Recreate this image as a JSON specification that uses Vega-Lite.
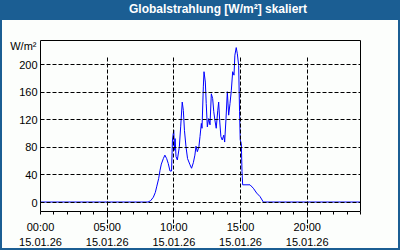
{
  "$schema": "https://vega.github.io/schema/vega-lite/v6.json",
  "width": 396,
  "height": 228,
  "autosize": {"type": "none"},
  "padding": {"left": 2, "right": 2, "top": 20, "bottom": 2},
  "background": "#1B5E93",
  "config": {
    "view": {"fill": "#FCFEFC", "stroke": null},
    "font": "Liberation Sans"
  },
  "title": {
    "text": "Globalstrahlung [W/m²] skaliert",
    "color": "#FFFFFF",
    "font": "Liberation Sans",
    "fontSize": 12,
    "fontWeight": "bold",
    "anchor": "middle",
    "frame": "group",
    "baseline": "alphabetic",
    "offset": -5,
    "dx": 18
  },
  "data": {
    "values": [
      {"t": "2026-01-15T00:00", "v": 0},
      {"t": "2026-01-15T08:06", "v": 0},
      {"t": "2026-01-15T08:18", "v": 2},
      {"t": "2026-01-15T08:30", "v": 7},
      {"t": "2026-01-15T08:39", "v": 14},
      {"t": "2026-01-15T08:45", "v": 22},
      {"t": "2026-01-15T08:54", "v": 34},
      {"t": "2026-01-15T09:00", "v": 46},
      {"t": "2026-01-15T09:06", "v": 55},
      {"t": "2026-01-15T09:15", "v": 63},
      {"t": "2026-01-15T09:22", "v": 68},
      {"t": "2026-01-15T09:30", "v": 63},
      {"t": "2026-01-15T09:37", "v": 56},
      {"t": "2026-01-15T09:45", "v": 45},
      {"t": "2026-01-15T09:52", "v": 45},
      {"t": "2026-01-15T09:56", "v": 90},
      {"t": "2026-01-15T10:00", "v": 100},
      {"t": "2026-01-15T10:02", "v": 104},
      {"t": "2026-01-15T10:05", "v": 75},
      {"t": "2026-01-15T10:08", "v": 92},
      {"t": "2026-01-15T10:12", "v": 66},
      {"t": "2026-01-15T10:18", "v": 61},
      {"t": "2026-01-15T10:27", "v": 80},
      {"t": "2026-01-15T10:33", "v": 109},
      {"t": "2026-01-15T10:40", "v": 145},
      {"t": "2026-01-15T10:45", "v": 133},
      {"t": "2026-01-15T10:50", "v": 104},
      {"t": "2026-01-15T10:57", "v": 80},
      {"t": "2026-01-15T11:04", "v": 63},
      {"t": "2026-01-15T11:15", "v": 54},
      {"t": "2026-01-15T11:22", "v": 49},
      {"t": "2026-01-15T11:30", "v": 57},
      {"t": "2026-01-15T11:37", "v": 68},
      {"t": "2026-01-15T11:42", "v": 81},
      {"t": "2026-01-15T11:48", "v": 73},
      {"t": "2026-01-15T11:55", "v": 80},
      {"t": "2026-01-15T12:00", "v": 95},
      {"t": "2026-01-15T12:06", "v": 114},
      {"t": "2026-01-15T12:09", "v": 107},
      {"t": "2026-01-15T12:15", "v": 167},
      {"t": "2026-01-15T12:18", "v": 189},
      {"t": "2026-01-15T12:24", "v": 174},
      {"t": "2026-01-15T12:28", "v": 143},
      {"t": "2026-01-15T12:33", "v": 109},
      {"t": "2026-01-15T12:39", "v": 121},
      {"t": "2026-01-15T12:45", "v": 112},
      {"t": "2026-01-15T12:51", "v": 157},
      {"t": "2026-01-15T12:57", "v": 150},
      {"t": "2026-01-15T13:02", "v": 131},
      {"t": "2026-01-15T13:07", "v": 119},
      {"t": "2026-01-15T13:13", "v": 107},
      {"t": "2026-01-15T13:20", "v": 133},
      {"t": "2026-01-15T13:24", "v": 145},
      {"t": "2026-01-15T13:29", "v": 116},
      {"t": "2026-01-15T13:34", "v": 95},
      {"t": "2026-01-15T13:40", "v": 90},
      {"t": "2026-01-15T13:47", "v": 97},
      {"t": "2026-01-15T13:51", "v": 87},
      {"t": "2026-01-15T13:57", "v": 121},
      {"t": "2026-01-15T14:03", "v": 160},
      {"t": "2026-01-15T14:09", "v": 126},
      {"t": "2026-01-15T14:15", "v": 143},
      {"t": "2026-01-15T14:21", "v": 162},
      {"t": "2026-01-15T14:27", "v": 189},
      {"t": "2026-01-15T14:33", "v": 184},
      {"t": "2026-01-15T14:37", "v": 213},
      {"t": "2026-01-15T14:43", "v": 224},
      {"t": "2026-01-15T14:48", "v": 215},
      {"t": "2026-01-15T14:54", "v": 198},
      {"t": "2026-01-15T14:58", "v": 131},
      {"t": "2026-01-15T15:01", "v": 90},
      {"t": "2026-01-15T15:06", "v": 85},
      {"t": "2026-01-15T15:09", "v": 44},
      {"t": "2026-01-15T15:12", "v": 25},
      {"t": "2026-01-15T15:45", "v": 25},
      {"t": "2026-01-15T16:00", "v": 20},
      {"t": "2026-01-15T16:15", "v": 13},
      {"t": "2026-01-15T16:30", "v": 8},
      {"t": "2026-01-15T16:45", "v": 0},
      {"t": "2026-01-16T00:00", "v": 0}
    ]
  },
  "resolve": {"axis": {"x": "independent", "y": "independent"}},
  "layer": [
    {
      "mark": {"type": "line", "color": "#0000FF", "strokeWidth": 1, "interpolate": "linear"},
      "encoding": {
        "x": {
          "field": "t",
          "type": "temporal",
          "scale": {
            "domain": [{"year": 2026, "month": 1, "date": 15, "hours": 0}, {"year": 2026, "month": 1, "date": 16, "hours": 0}],
            "range": [38, 358]
          },
          "axis": {
            "orient": "bottom",
            "offset": -37,
            "zindex": 1,
            "title": null,
            "values": [
              {"year": 2026, "month": 1, "date": 15, "hours": 0},
              {"year": 2026, "month": 1, "date": 15, "hours": 1},
              {"year": 2026, "month": 1, "date": 15, "hours": 2},
              {"year": 2026, "month": 1, "date": 15, "hours": 3},
              {"year": 2026, "month": 1, "date": 15, "hours": 4},
              {"year": 2026, "month": 1, "date": 15, "hours": 5},
              {"year": 2026, "month": 1, "date": 15, "hours": 6},
              {"year": 2026, "month": 1, "date": 15, "hours": 7},
              {"year": 2026, "month": 1, "date": 15, "hours": 8},
              {"year": 2026, "month": 1, "date": 15, "hours": 9},
              {"year": 2026, "month": 1, "date": 15, "hours": 10},
              {"year": 2026, "month": 1, "date": 15, "hours": 11},
              {"year": 2026, "month": 1, "date": 15, "hours": 12},
              {"year": 2026, "month": 1, "date": 15, "hours": 13},
              {"year": 2026, "month": 1, "date": 15, "hours": 14},
              {"year": 2026, "month": 1, "date": 15, "hours": 15},
              {"year": 2026, "month": 1, "date": 15, "hours": 16},
              {"year": 2026, "month": 1, "date": 15, "hours": 17},
              {"year": 2026, "month": 1, "date": 15, "hours": 18},
              {"year": 2026, "month": 1, "date": 15, "hours": 19},
              {"year": 2026, "month": 1, "date": 15, "hours": 20},
              {"year": 2026, "month": 1, "date": 15, "hours": 21},
              {"year": 2026, "month": 1, "date": 15, "hours": 22},
              {"year": 2026, "month": 1, "date": 15, "hours": 23},
              {"year": 2026, "month": 1, "date": 16, "hours": 0}
            ],
            "labelExpr": "hours(datum.value) % 5 == 0 && date(datum.value) == 15 ? [timeFormat(datum.value, '%H:%M'), timeFormat(datum.value, '%d.%m.%y')] : ''",
            "labelFont": "Liberation Sans",
            "labelFontSize": 11,
            "labelColor": "#000000",
            "labelLineHeight": 15,
            "labelPadding": 7,
            "labelFlush": false,
            "labelOverlap": false,
            "labelBaseline": "top",
            "tickSize": 3,
            "tickColor": "#000000",
            "tickWidth": 1,
            "domainColor": "#000000",
            "domainWidth": 1,
            "grid": true,
            "gridColor": "#000000",
            "gridDash": [4, 2],
            "gridWidth": 1,
            "gridOpacity": {"condition": {"test": "hours(datum.value) % 5 == 0 && hours(datum.value) > 0", "value": 1}, "value": 0}
          }
        },
        "y": {
          "field": "v",
          "type": "quantitative",
          "scale": {"domain": [-13, 235], "range": [191, 20], "nice": false, "zero": false},
          "axis": {
            "orient": "left",
            "offset": -38,
            "zindex": 1,
            "values": [0, 40, 80, 120, 160, 200],
            "title": "W/m²",
            "titleAngle": 0,
            "titleAlign": "right",
            "titleBaseline": "middle",
            "titleX": -4,
            "titleY": 26.5,
            "titleFont": "Liberation Sans",
            "titleFontSize": 11,
            "titleFontWeight": "normal",
            "titleColor": "#000000",
            "labelFont": "Liberation Sans",
            "labelFontSize": 11,
            "labelColor": "#000000",
            "labelPadding": 3,
            "labelOffset": 1,
            "ticks": false,
            "domainColor": "#000000",
            "domainWidth": 1,
            "grid": true,
            "gridColor": "#000000",
            "gridDash": [4, 2],
            "gridWidth": 1
          }
        }
      }
    },
    {
      "mark": {"type": "line", "opacity": 0},
      "encoding": {
        "x": {
          "field": "t",
          "type": "temporal",
          "axis": {"orient": "top", "offset": -20, "labels": false, "ticks": false, "grid": false, "title": null, "domainColor": "#000000", "domainWidth": 1}
        },
        "y": {
          "field": "v",
          "type": "quantitative",
          "axis": {"orient": "right", "offset": -38, "labels": false, "ticks": false, "grid": false, "title": null, "domainColor": "#000000", "domainWidth": 1}
        }
      }
    }
  ]
}
